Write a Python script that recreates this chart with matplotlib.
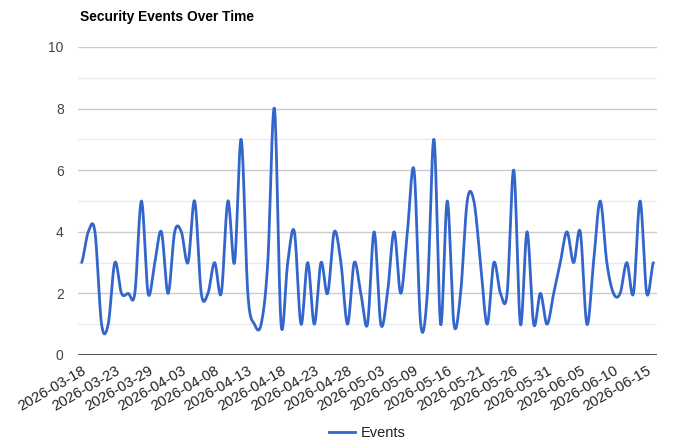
import numpy as np
import pandas as pd
import matplotlib
matplotlib.use("Agg")
import matplotlib.pyplot as plt
from matplotlib.lines import Line2D

plt.rcParams['font.family'] = ['Liberation Sans', 'DejaVu Sans']

# ---- data ----
start_date = "2026-03-18"
end_date = "2026-06-16"
missing_dates = ["2026-03-26", "2026-05-06", "2026-05-11", "2026-05-14"]
events = [3, 4, 4, 1, 1, 3, 2, 2, 2, 5,
          2, 3, 4, 2, 4, 4, 3, 5, 2, 2,
          3, 2, 5, 3, 7, 2, 1, 1, 3, 8,
          1, 3, 4, 1, 3, 1, 3, 2, 4, 3,
          1, 3, 2, 1, 4, 1, 2, 4, 2, 4,
          6, 1, 2, 7, 1, 5, 1, 2, 5, 5,
          3, 1, 3, 2, 2, 6, 1, 4, 1, 2,
          1, 2, 3, 4, 3, 4, 1, 3, 5, 3,
          2, 2, 3, 2, 5, 2, 3]
label_step = 5
y_ticks = [0, 2, 4, 6, 8, 10]

all_days = pd.date_range(start_date, end_date, freq="D").strftime("%Y-%m-%d")
dates = [d for d in all_days if d not in missing_dates]

# ---- smooth curve (Catmull-Rom through the data points) ----
p = np.array(events, dtype=float)
n = len(p)
idx = np.arange(n, dtype=float)
m = np.zeros(n)
m[1:-1] = (p[2:] - p[:-2]) / 2.0
m[0] = (p[1] - p[0]) / 2.0
m[-1] = (p[-1] - p[-2]) / 2.0
xs, ys = [], []
t = np.linspace(0, 1, 25)
h00 = 2 * t**3 - 3 * t**2 + 1
h10 = t**3 - 2 * t**2 + t
h01 = -2 * t**3 + 3 * t**2
h11 = t**3 - t**2
for i in range(n - 1):
    xs.append(idx[i] + t)
    ys.append(h00 * p[i] + h10 * m[i] + h01 * p[i + 1] + h11 * m[i + 1])
xs = np.concatenate(xs)
ys = np.concatenate(ys)

# ---- figure ----
W, H = 677, 447
fig = plt.figure(figsize=(W / 100, H / 100), dpi=100)
ax = fig.add_axes([78.3 / W, 92 / H, (656.7 - 78.3) / W, (400 - 92) / H])

line_color = "#3366cc"
ax.plot(xs, ys, color=line_color, lw=2.0, solid_capstyle="round", zorder=3)

ax.set_xlim(-0.5, n - 0.5)
ax.set_ylim(0, 10)

# gridlines
for v in range(1, 10, 2):
    ax.axhline(v, color="#ebebeb", lw=1, zorder=1)
for v in y_ticks[1:]:
    ax.axhline(v, color="#cccccc", lw=1, zorder=1)
ax.axhline(0, color="#333333", lw=1.2, zorder=4)

ax.set_yticks(y_ticks)
ax.set_yticklabels([str(v) for v in y_ticks])
ax.tick_params(axis="y", length=0, pad=10.5, labelsize=10, labelcolor="#444444")

tick_pos = list(range(0, n, label_step))
ax.set_xticks(tick_pos)
ax.set_xticklabels([dates[i] for i in tick_pos], rotation=30, ha="right",
                   rotation_mode="anchor")
ax.tick_params(axis="x", length=0, pad=6, labelsize=10.6, labelcolor="#222222")

for s in ax.spines.values():
    s.set_visible(False)

fig.text(80 / W, 1 - 17 / H, "Security Events Over Time", fontsize=9.9,
         fontweight="bold", color="#000000", ha="left", va="center")

handle = Line2D([], [], color=line_color, lw=2)
fig.legend([handle], ["Events"], loc="center", bbox_to_anchor=(367 / W, 1 - 433 / H),
           frameon=False, fontsize=10.5, handlelength=1.8, handletextpad=0.4,
           labelcolor="#222222")

fig.savefig("out.png", dpi=100)
